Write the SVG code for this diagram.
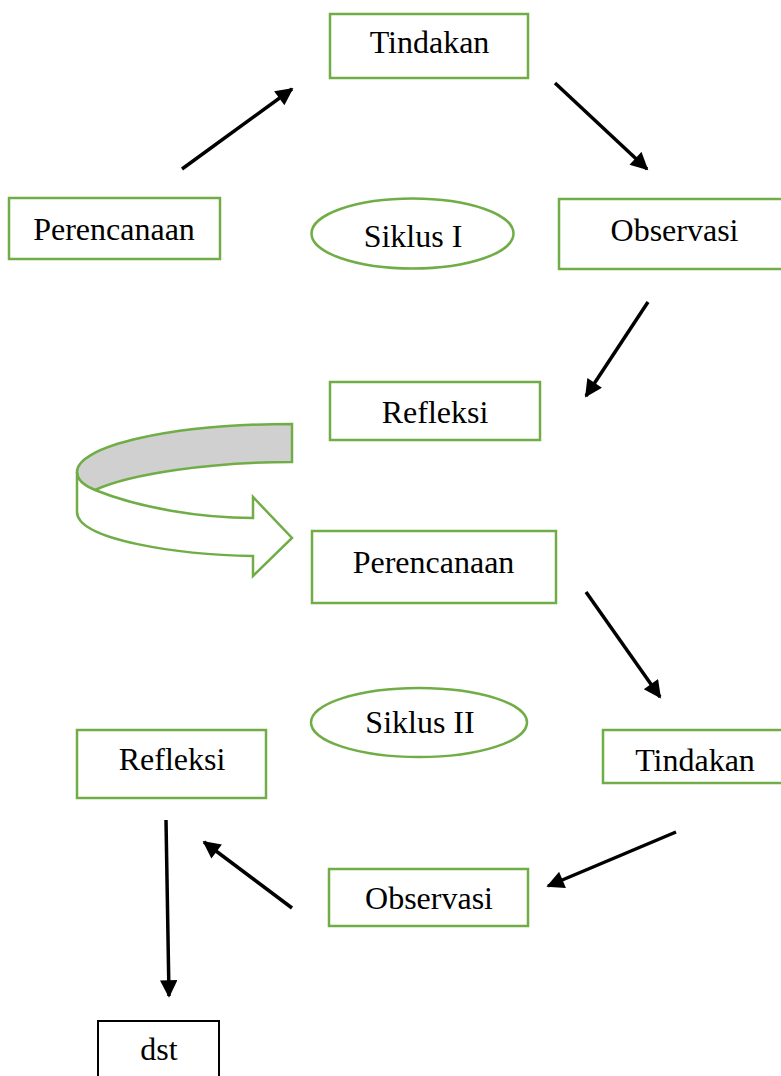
<svg xmlns="http://www.w3.org/2000/svg" width="781" height="1076" viewBox="0 0 781 1076">
<defs>
<style>
.box{fill:#fff;stroke:#70AD47;stroke-width:2.5}
.ell{fill:#fff;stroke:#70AD47;stroke-width:2.5}
.dst{fill:#fff;stroke:#000;stroke-width:2}
.t{font-family:"Liberation Serif","Times New Roman",serif;font-size:32px;fill:#000;text-anchor:middle}
.arr{stroke:#000;stroke-width:3.5;fill:none;marker-end:url(#ah)}
.curv{stroke:#70AD47;stroke-width:2.5;stroke-linejoin:miter}
</style>
<marker id="ah" viewBox="0 0 10 10" refX="9" refY="5" markerWidth="5.5" markerHeight="5" orient="auto" markerUnits="strokeWidth">
<path d="M0,0 L10,5 L0,10 z" fill="#000"/>
</marker>
</defs>
<rect width="781" height="1076" fill="#fff"/>
<g id="tindakan1"><rect class="box" x="330" y="14" width="198" height="64"/><text class="t" x="429.5" y="53">Tindakan</text></g>
<g id="perencanaan1"><rect class="box" x="9" y="198" width="211" height="61"/><text class="t" x="114" y="240">Perencanaan</text></g>
<g id="observasi1"><rect class="box" x="559" y="199" width="230" height="70"/><text class="t" x="674.5" y="241">Observasi</text></g>
<g id="siklus1"><ellipse class="ell" cx="412.5" cy="233.5" rx="101" ry="35"/><text class="t" x="413" y="247">Siklus I</text></g>
<g id="refleksi1"><rect class="box" x="330" y="382" width="210" height="58"/><text class="t" x="435" y="423">Refleksi</text></g>
<g id="curved-arrow">
<path class="curv" fill="#d0d0d0" d="M292,424 A215,48 0 0 0 77,472 C77,480 85,486 95,490 C130,474 210,462 292,462 Z"/>
<path class="curv" fill="#fff" d="M77,472 C77,480 85,486 95,490 C140,508 200,518 253,518 L253,497 L292,538 L253,576 L253,556 C180,555 77,540 77,512 Z"/>
</g>
<g id="perencanaan2"><rect class="box" x="312" y="531" width="244" height="72"/><text class="t" x="433.5" y="573">Perencanaan</text></g>
<g id="siklus2"><ellipse class="ell" cx="419" cy="722.5" rx="108" ry="34.5"/><text class="t" x="420" y="733">Siklus II</text></g>
<g id="refleksi2"><rect class="box" x="77" y="730" width="189" height="68"/><text class="t" x="172" y="770">Refleksi</text></g>
<g id="tindakan2"><rect class="box" x="603" y="730" width="190" height="53"/><text class="t" x="695" y="771">Tindakan</text></g>
<g id="observasi2"><rect class="box" x="329" y="869" width="199" height="57"/><text class="t" x="429" y="909">Observasi</text></g>
<g id="dst"><rect class="dst" x="98" y="1021" width="121" height="70"/><text class="t" x="159" y="1060">dst</text></g>
<g id="connectors">
<line class="arr" x1="182" y1="169" x2="292" y2="89"/>
<line class="arr" x1="555" y1="83" x2="647" y2="169"/>
<line class="arr" x1="648" y1="302" x2="586" y2="396"/>
<line class="arr" x1="586" y1="592" x2="660" y2="697"/>
<line class="arr" x1="676" y1="832" x2="548" y2="886"/>
<line class="arr" x1="292" y1="908" x2="204" y2="842"/>
<line class="arr" x1="166" y1="820" x2="169" y2="996"/>
</g>
</svg>
